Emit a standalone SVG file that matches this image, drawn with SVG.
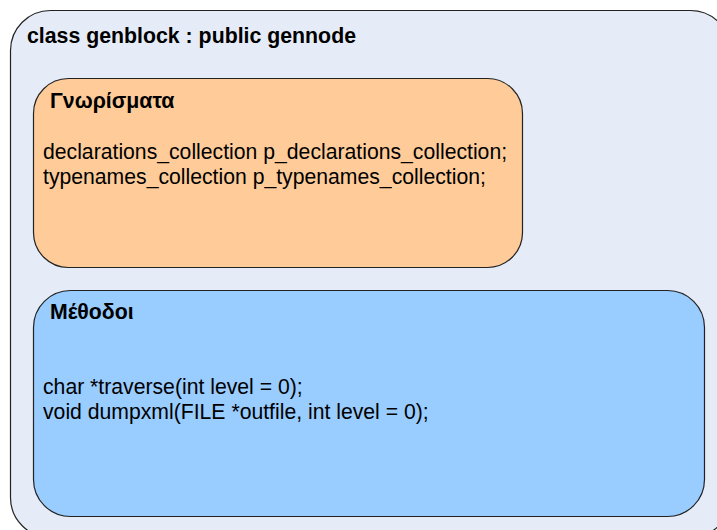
<svg xmlns="http://www.w3.org/2000/svg" width="717" height="530" viewBox="0 0 717 530">
<style>
.box{stroke:#222;stroke-width:1.2}
.b{font-family:"Liberation Sans",Arial,sans-serif;font-size:21.3px;font-weight:bold;fill:#000}
.t{font-family:"Liberation Sans",Arial,sans-serif;font-size:21.2px;fill:#000}
</style>
<rect width="717" height="530" fill="#ffffff"/>
<g id="genblock">
<rect class="box" x="10.5" y="10.5" width="720" height="527" rx="40" ry="40" fill="#E6ECF7"/>
<text class="b" x="27" y="43">class genblock : public gennode</text>
</g>
<g id="attributes">
<rect class="box" x="33.5" y="78.5" width="489" height="189" rx="35" ry="35" fill="#FFCC99"/>
<text class="b" x="50" y="108">Γνωρίσματα</text>
<text class="t" x="43" y="159">declarations_collection p_declarations_collection;</text>
<text class="t" x="43" y="184">typenames_collection p_typenames_collection;</text>
</g>
<g id="methods">
<rect class="box" x="33.5" y="290.5" width="671" height="226" rx="37" ry="37" fill="#99CCFF"/>
<text class="b" x="50" y="319">Μέθοδοι</text>
<text class="t" x="43" y="394">char *traverse(int level = 0);</text>
<text class="t" x="43" y="419">void dumpxml(FILE *outfile, int level = 0);</text>
</g>
<g id="connectors"></g>
</svg>
